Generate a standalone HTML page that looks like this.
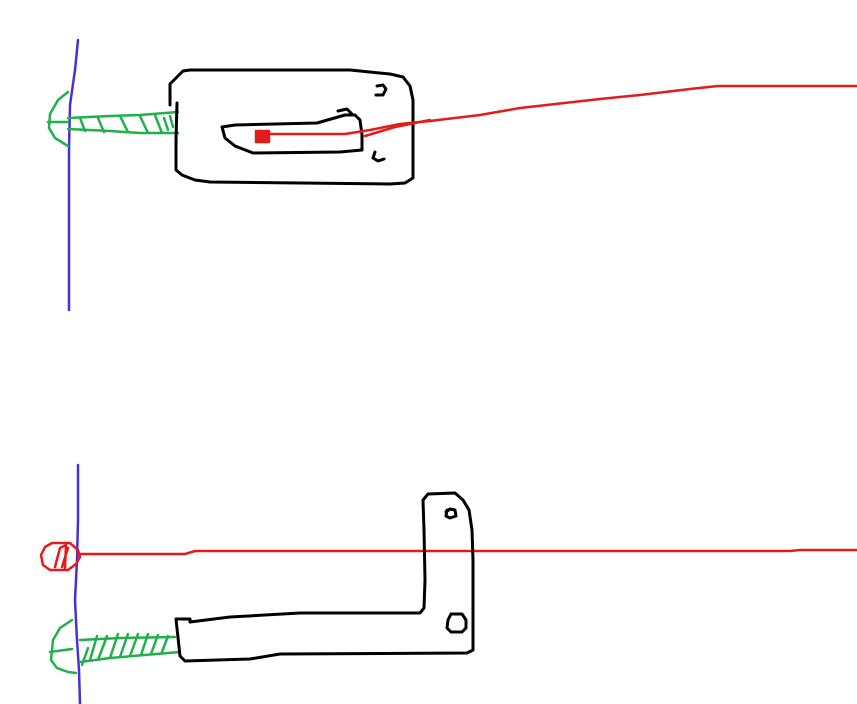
<!DOCTYPE html>
<html><head><meta charset="utf-8"><style>html,body{margin:0;padding:0;background:#fff}svg{display:block}</style></head>
<body>
<svg width="857" height="704" viewBox="0 0 857 704" xmlns="http://www.w3.org/2000/svg" fill="none" stroke-linecap="round" stroke-linejoin="round">
<!-- TOP -->
<path d="M78,40 L75,70 L70,105 L69,150 L69,310" stroke="#4a2fd4" stroke-width="2.5"/>
<g stroke="#21b04a" stroke-width="2.5">
<path d="M68,92 L58,100 L50,114 L49,128 L55,138 L68,146"/>
<path d="M48,122 L68,122"/>
<path d="M68,118 L110,116 L140,115 L178,112"/>
<path d="M68,129 L110,131 L140,133 L178,133"/>
<path d="M80,118 L85,131 M98,118 L104,132 M120,116 L128,132 M140,116 L148,133 M155,115 L162,133 M164,118 L168,130 M170,116 L173,127"/>
</g>
<g stroke="#000" stroke-width="3">
<path d="M170,105 L170,84 L183,71 L190,70 L350,70 L390,74 L403,77 L410,86 L413,100 L413,178 L405,183 L390,184 L210,182 L195,180 L182,175 L176,170 L176,140 L177,103"/>
<path d="M222,127 L235,125 L317,123 L338,117 L345,115 L355,115 L360,120 L362,135 L362,150 L340,152 L253,153 L235,146 L225,138 Z"/>
<path d="M338,111 L347,109 L352,114"/>
<path d="M377,86 L383,85 L386,89 L383,95 L376,95"/>
<path d="M375,152 L373,158 L378,161 L384,159"/>
</g>
<g stroke="#e31b1b" stroke-width="2.5">
<rect x="256" y="131" width="13" height="11" fill="#e31b1b"/>
<path d="M268,134 L345,134 L370,130 L400,124 L430,121 L480,115 L520,108 L600,99 L640,95 L690,89 L718,86 L857,86"/>
<path d="M365,136 L395,127 L430,120"/>
</g>
<!-- BOTTOM -->
<path d="M78,465 L78,520 L77,560 L75,600 L77,640 L79,670 L80,704" stroke="#4a2fd4" stroke-width="2.5"/>
<g stroke="#e31b1b" stroke-width="2.5">
<path d="M45,547 L52,543 L70,543 L78,550 L80,557 L76,564 L68,570 L50,570 L43,565 L41,555 Z"/>
<path d="M55,567 L60,548 L66,545 L65,568 M62,567 L68,548"/>
<path d="M78,554 L185,554 L195,551 L790,551 L800,550 L857,550"/>
</g>
<g stroke="#21b04a" stroke-width="2.5">
<path d="M72,620 L60,628 L53,640 L51,660 L57,668 L68,672 L76,673"/>
<path d="M50,652 L72,649"/>
<path d="M80,640 L120,638 L175,637"/>
<path d="M80,662 L110,658 L180,652"/>
<path d="M88,648 L82,665 M97,636 L90,660 M107,636 L98,660 M118,634 L110,658 M128,634 L120,657 M138,634 L130,656 M148,634 L141,655 M158,635 L151,654 M168,636 L162,652"/>
</g>
<g stroke="#000" stroke-width="3">
<path d="M176,619 L190,619 L190,622 L230,617 L300,613 L420,613 L424,608 L425,580 L424,530 L423,500 L428,494 L455,493 L463,500 L469,510 L472,530 L473,560 L473,650 L467,653 L280,654 L250,659 L185,661 L180,656 L176,619"/>
<path d="M446,512 L450,509 L455,510 L456,516 L450,518 L446,516 L447,510"/>
<path d="M451,614 L462,614 L466,620 L466,628 L462,632 L451,632 L447,628 L448,620 Z"/>
</g>
</svg>
</body></html>
